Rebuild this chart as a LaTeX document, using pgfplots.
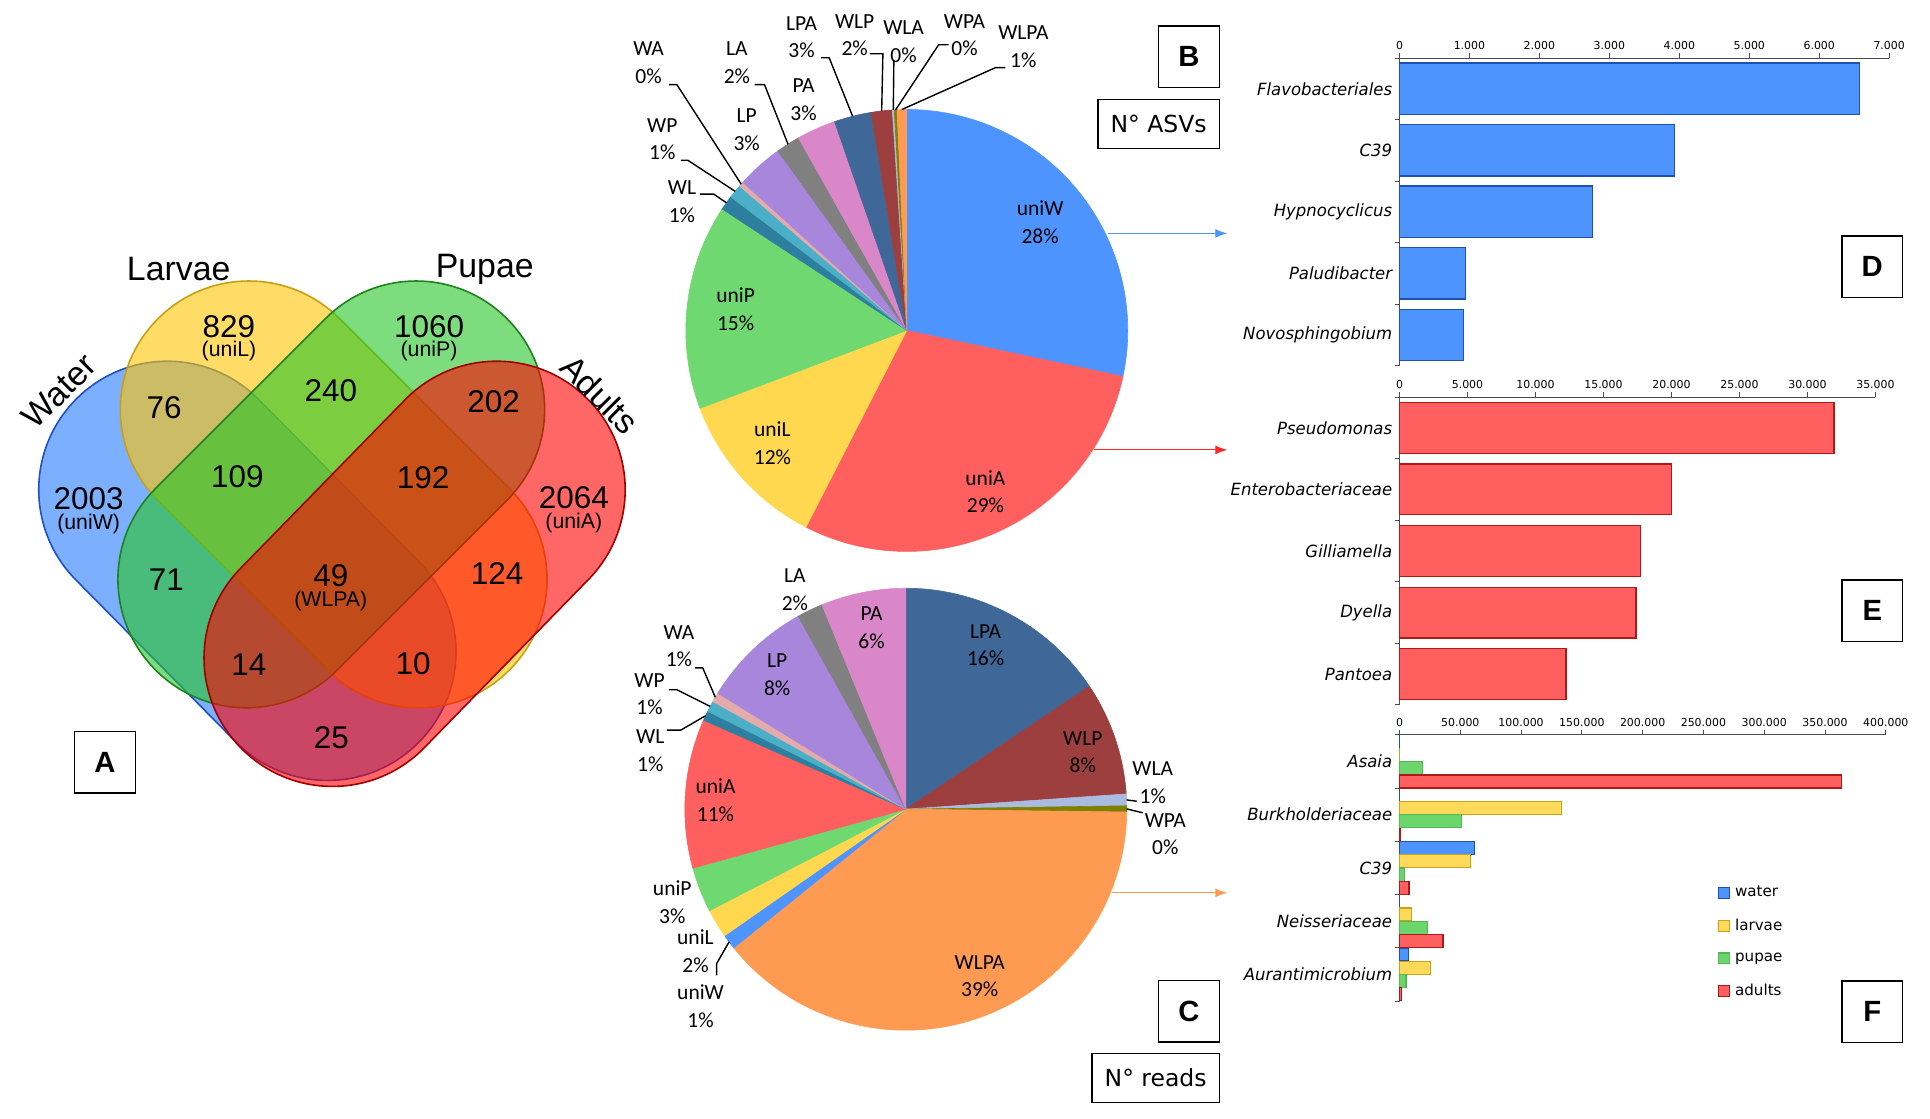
\documentclass[border=0pt]{standalone}
\usepackage{pgfplots}
\pgfplotsset{compat=1.18}
\usepackage{pgfplotstable}
\usepackage{fontspec}
\usetikzlibrary{arrows.meta}
\setmainfont{Carlito}
\newfontfamily\vennfont{Liberation Sans}
\newfontfamily\barfont[FakeStretch=0.98]{DejaVu Sans}
\newfontfamily\dvfont{DejaVu Sans}

% pie slice colours
\definecolor{suniW}{HTML}{4D94FF}
\definecolor{suniA}{HTML}{FF5F5F}
\definecolor{suniL}{HTML}{FFD84F}
\definecolor{suniP}{HTML}{70D870}
\definecolor{sWL}{HTML}{2E7F9F}
\definecolor{sWP}{HTML}{4BAFC8}
\definecolor{sWA}{HTML}{E3ABAB}
\definecolor{sLP}{HTML}{A886DC}
\definecolor{sLA}{HTML}{808080}
\definecolor{sPA}{HTML}{DA87C9}
\definecolor{sLPA}{HTML}{3F6899}
\definecolor{sWLP}{HTML}{9E3F3F}
\definecolor{sWLA}{HTML}{A9BCE0}
\definecolor{sWPA}{HTML}{7F7F00}
\definecolor{sWLPA}{HTML}{FF9A52}
% venn
\definecolor{vblue}{RGB}{38,122,255}
\definecolor{vblueD}{RGB}{30,80,200}
\definecolor{vyel}{RGB}{255,197,0}
\definecolor{vyelD}{RGB}{200,160,20}
\definecolor{vgrn}{RGB}{38,197,38}
\definecolor{vgrnD}{RGB}{30,130,30}
\definecolor{vred}{RGB}{255,0,0}
\definecolor{vredD}{RGB}{160,0,0}
% bars
\definecolor{bblue}{HTML}{4D94FF}\definecolor{bblueD}{HTML}{1F50B4}
\definecolor{bred}{HTML}{FF5F5F}\definecolor{bredD}{HTML}{B01818}
\definecolor{byel}{HTML}{FFD95A}\definecolor{byelD}{HTML}{C9A215}
\definecolor{bgrn}{HTML}{6CD66C}\definecolor{bgrnD}{HTML}{52B852}

% N ASVs (clockwise from 12 o'clock)
\pgfplotstableread{
name value
uniW 2003
uniA 2064
uniL 829
uniP 1060
WL 76
WP 71
WA 25
LP 240
LA 124
PA 202
LPA 192
WLP 109
WLA 10
WPA 14
WLPA 49
}\asvtab

% N reads, percent (clockwise from 12 o'clock)
\pgfplotstableread{
name value
LPA 15.6
WLP 8.3
WLA 0.85
WPA 0.45
WLPA 39.0
uniW 1.1
uniL 2.1
uniP 3.3
uniA 10.9
WL 0.7
WP 0.8
WA 0.7
LP 8.1
LA 1.9
PA 6.2
}\readtab

\newcommand\piecalc[2]{%
  \xdef\ptot{0}%
  \pgfplotstableforeachcolumnelement{value}\of#1\as\cell{%
    \pgfmathsetmacro\tmp{\ptot+\cell}\xdef\ptot{\tmp}}%
  \xdef\pacc{90}%
  \pgfplotstableforeachcolumnelement{value}\of#1\as\cell{%
    \pgfmathsetmacro\tmp{\pacc-360*(\cell/\ptot)}%
    \pgfmathsetmacro\tmpm{(\pacc+\tmp)/2}%
    \expandafter\xdef\csname #2s\pgfplotstablerow\endcsname{\pacc}%
    \expandafter\xdef\csname #2e\pgfplotstablerow\endcsname{\tmp}%
    \expandafter\xdef\csname #2m\pgfplotstablerow\endcsname{\tmpm}%
    \xdef\pacc{\tmp}}%
  \pgfplotstableforeachcolumnelement{name}\of#1\as\cell{%
    \expandafter\xdef\csname #2c\pgfplotstablerow\endcsname{\cell}}%
}
\newcommand\pmid[2]{\csname #1m#2\endcsname}
\newcommand\drawpie[3]{%
  \pgfplotsinvokeforeach{0,...,14}{%
    \edef\tmp{\noexpand\fill[fill=s\csname #1c##1\endcsname, draw=s\csname #1c##1\endcsname, line width=0.3pt]
      (axis cs:#2,#3) -- ++(\csname #1s##1\endcsname:111pt)
      arc[start angle=\csname #1s##1\endcsname, end angle=\csname #1e##1\endcsname, radius=111pt] -- cycle;}%
    \tmp}}
\newcommand\lead[4]{\edef\tmp{\noexpand\draw[line width=0.7pt] (axis cs:#3) ++(\pmid{#1}{#2}:111pt) #4;}\tmp}
\newcommand\plab[3]{\node[plab] at (axis cs:#1) {#2\\#3};}

\pgfplotsset{
  barax/.style={
    scale only axis, xbar, xmin=0, ymin=0.5, ymax=5.5,
    axis x line=top, axis y line=left,
    every outer x axis line/.append style={-}, every outer y axis line/.append style={-},
    every inner x axis line/.append style={-}, every inner y axis line/.append style={-},
    axis line style={draw=black!70, line width=0.5pt},
    tick style={draw=black!70, line width=0.5pt},
    tick align=outside, major tick length=2.5pt,
    ytick={0.5,1.5,2.5,3.5,4.5,5.5}, y tick label as interval,
    yticklabel style={font=\barfont\itshape\fontsize{8.45}{10}\selectfont, inner sep=0pt, xshift=-1pt},
    xticklabel style={font=\dvfont\fontsize{5.5}{6}\selectfont, inner sep=0pt, yshift=1.5pt},
    scaled x ticks=false, clip=false,
  },
}
\tikzset{
  vbox/.style={fill opacity=0.6, line width=0.8pt, rounded corners=64.4pt},
  plab/.style={font=\fontsize{10.8}{13.85}\selectfont, inner sep=0pt, align=center},
  vnum/.style={font=\vennfont\fontsize{15.8}{18}\selectfont, inner sep=0pt},
  vsub/.style={font=\vennfont\fontsize{10.7}{12}\selectfont, inner sep=0pt},
  vtit/.style={font=\vennfont\fontsize{17}{20}\selectfont, inner sep=0pt},
  lbox/.style={draw, line width=0.8pt, minimum width=30.5pt, minimum height=31pt, inner sep=0pt,
    font=\vennfont\bfseries\fontsize{14.7}{16}\selectfont},
  tbox/.style={draw, line width=0.8pt, minimum height=24.5pt, inner sep=0pt,
    font=\dvfont\fontsize{11.8}{13}\selectfont},
}

\begin{document}
\piecalc{\asvtab}{B}
\piecalc{\readtab}{C}
\begin{tikzpicture}
\path[use as bounding box] (0pt,0pt) rectangle (965pt,562pt);

% D
\begin{axis}[barax, at={(698.5pt,378.35pt)}, anchor=south west, width=246pt, height=154.5pt,
  xmax=7000, xtick={0,1000,2000,3000,4000,5000,6000,7000},
  xticklabels={0,1.000,2.000,3.000,4.000,5.000,6.000,7.000},
  yticklabels={Novosphingobium,Paludibacter,Hypnocyclicus,C39,Flavobacteriales}]
\addplot[fill=bblue, draw=bblueD, line width=0.6pt, bar width=0.836]
  coordinates {(6580,5) (3929,4) (2763,3) (944,2) (919,1)};
\end{axis}

% E
\begin{axis}[barax, at={(698.5pt,207.85pt)}, anchor=south west, width=239.1pt, height=154.65pt,
  xmax=35000, xtick={0,5000,10000,15000,20000,25000,30000,35000},
  xticklabels={0,5.000,10.000,15.000,20.000,25.000,30.000,35.000},
  yticklabels={Pantoea,Dyella,Gilliamella,Enterobacteriaceae,Pseudomonas}]
\addplot[fill=bred, draw=bredD, line width=0.6pt, bar width=0.825]
  coordinates {(31950,5) (19990,4) (17740,3) (17390,2) (12250,1)};
\end{axis}

% F
\begin{axis}[barax, at={(698.5pt,59.15pt)}, anchor=south west, width=244.3pt, height=133.7pt,
  xmax=400000, xtick={0,50000,100000,150000,200000,250000,300000,350000,400000},
  xticklabels={0,50.000,100.000,150.000,200.000,250.000,300.000,350.000,400.000},
  yticklabels={Aurantimicrobium,Neisseriaceae,C39,Burkholderiaceae,Asaia},
  legend image code/.code={\draw[#1, line width=0.6pt] (0pt,-2.7pt) rectangle (5.4pt,2.7pt);},
  legend cell align=left,
  legend style={at={(0.654,0.433)}, anchor=north west, draw=none, fill=none, inner sep=0pt,
    font=\dvfont\fontsize{7.6}{9}\selectfont, row sep=9.6pt,
    nodes={inner sep=0pt}, /tikz/every odd column/.append style={column sep=2.6pt}}]
\addplot[fill=bblue, draw=bblueD, line width=0.6pt, bar width=0.245, bar shift=0.375]
  coordinates {(0,5) (0,4) (61400,3) (0,2) (7450,1)};
\addlegendentry{water}
\addplot[fill=byel, draw=byelD, line width=0.6pt, bar width=0.245, bar shift=0.125]
  coordinates {(0,5) (133100,4) (58560,3) (9940,2) (25200,1)};
\addlegendentry{larvae}
\addplot[fill=bgrn, draw=bgrnD, line width=0.6pt, bar width=0.245, bar shift=-0.125]
  coordinates {(18800,5) (51100,4) (4260,3) (22700,2) (5320,1)};
\addlegendentry{pupae}
\addplot[fill=bred, draw=bredD, line width=0.6pt, bar width=0.245, bar shift=-0.375]
  coordinates {(363800,5) (500,4) (7800,3) (35850,2) (1420,1)};
\addlegendentry{adults}
\end{axis}

% canvas: venn, pies, labels (pixel coordinates, y downwards)
\begin{axis}[at={(0pt,0pt)}, anchor=south west, scale only axis, width=965pt, height=562pt,
  xmin=0, xmax=1930, ymin=0, ymax=1124, y dir=reverse, hide axis, clip=false]
% Venn
\draw[vbox, draw=vblueD, fill=vblue, shift={(axis cs:239.5,573.5)}, rotate=-45.35] (-121.8pt,-64.5pt) rectangle (121.8pt,64.5pt);
\draw[vbox, draw=vyelD, fill=vyel, shift={(axis cs:326.2,496.7)}, rotate=-45] (-124.8pt,-64.5pt) rectangle (124.8pt,64.5pt);
\draw[vbox, draw=vgrnD, fill=vgrn, shift={(axis cs:323.8,496.7)}, rotate=45] (-124.8pt,-64.5pt) rectangle (124.8pt,64.5pt);
\draw[vbox, draw=vredD, fill=vred, shift={(axis cs:407.5,576.5)}, rotate=45.7] (-123.55pt,-64.5pt) rectangle (123.55pt,64.5pt);
\node[vtit, rotate=45] at (axis cs:50.5,393) {Water};
\node[vtit] at (axis cs:170.5,270.7) {Larvae};
\node[vtit] at (axis cs:478,270.7) {Pupae};
\node[vtit, rotate=-45] at (axis cs:593.6,396.4) {Adults};
\node[vnum] at (axis cs:221,327.8) {829};
\node[vsub] at (axis cs:221,352.8) {(uniL)};
\node[vnum] at (axis cs:422,327.8) {1060};
\node[vsub] at (axis cs:422,352.8) {(uniP)};
\node[vnum] at (axis cs:155.8,410) {76};
\node[vnum] at (axis cs:323.3,392) {240};
\node[vnum] at (axis cs:487,403.5) {202};
\node[vnum] at (axis cs:80,501) {2003};
\node[vsub] at (axis cs:80,526) {(uniW)};
\node[vnum] at (axis cs:229.4,478.5) {109};
\node[vnum] at (axis cs:416,480.3) {192};
\node[vnum] at (axis cs:567.5,500) {2064};
\node[vsub] at (axis cs:567.5,525) {(uniA)};
\node[vnum] at (axis cs:158,582.7) {71};
\node[vnum] at (axis cs:323.3,578.5) {49};
\node[vsub] at (axis cs:323.3,603.4) {(WLPA)};
\node[vnum] at (axis cs:490.5,576.7) {124};
\node[vnum] at (axis cs:241,667.7) {14};
\node[vnum] at (axis cs:406,667) {10};
\node[vnum] at (axis cs:324,741) {25};
\node[lbox] at (axis cs:96.5,766) {A};

% pie B
\drawpie{B}{902}{332}
\plab{1036,223}{uniW}{28\%}
\plab{981,494}{uniA}{29\%}
\plab{767,445}{uniL}{12\%}
\plab{730,310.5}{uniP}{15\%}
\plab{676.1,202.7}{WL}{1\%}
\plab{656.4,140}{WP}{1\%}
\plab{642.6,63}{WA}{0\%}
\plab{741.1,130.1}{LP}{3\%}
\plab{731.3,63}{LA}{2\%}
\plab{798.3,100.4}{PA}{3\%}
\plab{796.3,37.5}{LPA}{3\%}
\plab{849.6,35.5}{WLP}{2\%}
\plab{898.8,41.7}{WLA}{0\%}
\plab{960,35.5}{WPA}{0\%}
\plab{1019.1,47}{WLPA}{1\%}
\lead{B}{4}{902,332}{-- (axis cs:708,195) -- (axis cs:694,195)}
\lead{B}{5}{902,332}{-- (axis cs:682,161) -- (axis cs:675,161)}
\lead{B}{6}{902,332}{-- (axis cs:671,85) -- (axis cs:663,85)}
\lead{B}{8}{902,332}{-- (axis cs:759,85) -- (axis cs:749,85)}
\lead{B}{10}{902,332}{-- (axis cs:824,58) -- (axis cs:816,58)}
\lead{B}{11}{902,332}{-- (axis cs:878,54) -- (axis cs:865,54)}
\lead{B}{12}{902,332}{-- (axis cs:889,61)}
\lead{B}{13}{902,332}{-- (axis cs:934,45) -- (axis cs:944,45)}
\lead{B}{14}{902,332}{-- (axis cs:991,68) -- (axis cs:1001,68)}
\node[lbox] at (axis cs:1185.5,57) {B};
\node[tbox, minimum width=61pt] at (axis cs:1155,124.5) {N° ASVs};

% pie C
\drawpie{C}{901}{813}
\plab{789.6,592.3}{LA}{2\%}
\plab{866.6,630.8}{PA}{6\%}
\plab{981.2,648.3}{LPA}{16\%}
\plab{673.1,649.2}{WA}{1\%}
\plab{643.5,697.6}{WP}{1\%}
\plab{644.3,754}{WL}{1\%}
\plab{771.8,677.9}{LP}{8\%}
\plab{709.8,804}{uniA}{11\%}
\plab{666.4,906.6}{uniP}{3\%}
\plab{689.7,955.9}{uniL}{2\%}
\plab{694.8,1010.8}{uniW}{1\%}
\plab{1078.8,755.7}{WLP}{8\%}
\plab{1149.1,786.2}{WLA}{1\%}
\plab{1161.7,838}{WPA}{0\%}
\plab{975.3,980.8}{WLPA}{39\%}
\lead{C}{11}{901,813}{-- (axis cs:697,671) -- (axis cs:689,671)}
\lead{C}{10}{901,813}{-- (axis cs:671,693) -- (axis cs:663,693)}
\lead{C}{9}{901,813}{-- (axis cs:675,733.5) -- (axis cs:661,733.5)}
\lead{C}{5}{901,813}{-- (axis cs:711,968) -- (axis cs:711,980)}
\lead{C}{2}{901,813}{-- (axis cs:1133,805)}
\lead{C}{3}{901,813}{-- (axis cs:1139,816.6)}
\node[lbox] at (axis cs:1185.5,1016) {C};
\node[tbox, minimum width=64pt] at (axis cs:1152,1083) {N° reads};

% arrows to the bar panels
\draw[-{Latex[length=6pt,width=4.5pt]}, line width=0.6pt, suniW] (axis cs:1104,234.5) -- (axis cs:1224,234.5);
\draw[-{Latex[length=6pt,width=4.5pt]}, line width=0.6pt, red!85] (axis cs:1090,452) -- (axis cs:1224,452);
\draw[-{Latex[length=6pt,width=4.5pt]}, line width=0.6pt, sWLPA] (axis cs:1108,897) -- (axis cs:1224,897);
\node[lbox] at (axis cs:1872,268) {D};
\node[lbox] at (axis cs:1872,613.5) {E};
\node[lbox] at (axis cs:1872,1016.5) {F};
\end{axis}
\end{tikzpicture}
\end{document}
